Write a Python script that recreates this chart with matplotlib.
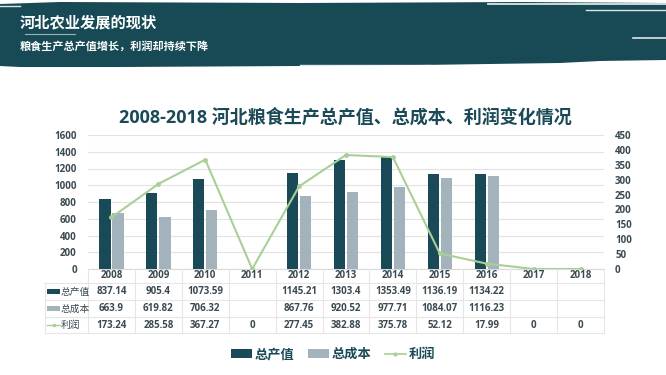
import matplotlib
matplotlib.use("Agg")
import matplotlib.pyplot as plt
from matplotlib.patches import Polygon, Rectangle
from matplotlib.lines import Line2D
import matplotlib.transforms as mtransforms

plt.rcParams['font.family'] = ['Open Sans', 'Noto Sans CJK SC', 'DejaVu Sans']

years = ['2008', '2009', '2010', '2011', '2012', '2013', '2014', '2015', '2016', '2017', '2018']
output_value = [837.14, 905.4, 1073.59, None, 1145.21, 1303.4, 1353.49, 1136.19, 1134.22, None, None]
total_cost = [663.9, 619.82, 706.32, None, 867.76, 920.52, 977.71, 1084.07, 1116.23, None, None]
profit = [173.24, 285.58, 367.27, 0, 277.45, 382.88, 375.78, 52.12, 17.99, 0, 0]
series_names = ['总产值', '总成本', '利润']
left_ticks = [0, 200, 400, 600, 800, 1000, 1200, 1400, 1600]
right_ticks = [0, 50, 100, 150, 200, 250, 300, 350, 400, 450]

DARK = '#1a4a57'
LIGHT = '#a3b3bb'
GREEN = '#a9cf98'
TXT = '#3b4a52'
GRID = '#e3e3e3'

W, H = 666, 375
fig = plt.figure(figsize=(W / 100, H / 100), dpi=100)
fig.patch.set_facecolor('white')

def fx(px):
    return px / W

def fy(py):
    return 1 - py / H

# Header banner
bg = fig.add_axes([0, 0, 1, 1], zorder=0)
bg.set_xlim(0, W)
bg.set_ylim(H, 0)
bg.axis('off')
banner = Polygon([(0, 4), (60, 2), (300, 3), (520, 2), (666, 3), (666, 60), (600, 61),
                  (560, 63), (420, 65), (300, 66), (120, 67), (20, 67), (0, 66)],
                 closed=True, facecolor='#184a56', edgecolor='none')
bg.add_patch(banner)
for (x0, x1, y, lw) in [(488, 666, 4, 1.3), (586, 666, 10, 1.0),
                        (633, 666, 38, 1.2), (300, 430, 65, 1.0), (0, 20, 6, 1.0)]:
    bg.plot([x0, x1], [y, y], color='white', lw=lw, alpha=0.85)
bg.plot([25, 75], [34, 34], color='#9ab0b6', lw=0.8)
bg.text(20, 22, '河北农业发展的现状', color='white', fontsize=11, fontweight='bold',
        va='center', ha='left', family=['Noto Sans CJK SC'])
bg.text(20, 46, '粮食生产总产值增长，利润却持续下降', color='white', fontsize=8,
        fontweight='bold', va='center', ha='left', family=['Noto Sans CJK SC'])

# Chart title
bg.text(345, 117, '2008-2018 河北粮食生产总产值、总成本、利润变化情况', color=DARK,
        fontsize=13, fontweight='bold', ha='center', va='center')

# Main axes
ax_l, ax_r, ax_b, ax_t = 88, 604, 269, 135
ax = fig.add_axes([fx(ax_l), fy(ax_b), fx(ax_r - ax_l), fy(ax_t) - fy(ax_b)], zorder=2)
ax.set_facecolor('none')
n = len(years)
xs = list(range(n))
ax.set_xlim(-0.5, n - 0.5)
ax.set_ylim(0, 1600)
ax.set_yticks(left_ticks)
ax.yaxis.grid(True, color=GRID, lw=0.8)
ax.set_axisbelow(True)
for s in ax.spines.values():
    s.set_visible(False)
ax.tick_params(axis='y', length=0, labelsize=7, labelcolor=TXT, pad=8)
ax.tick_params(axis='x', length=0, labelbottom=False)
for lab in ax.get_yticklabels():
    lab.set_fontweight('bold')

bw = 0.24
ov_x = [x - bw / 2 - 0.02 for x, v in zip(xs, output_value) if v is not None]
ov_v = [v for v in output_value if v is not None]
tc_x = [x + bw / 2 + 0.02 for x, v in zip(xs, total_cost) if v is not None]
tc_v = [v for v in total_cost if v is not None]
ax.bar(ov_x, ov_v, width=bw, color=DARK, zorder=3)
ax.bar(tc_x, tc_v, width=bw, color=LIGHT, zorder=3)

ax2 = ax.twinx()
ax2.set_ylim(0, 450)
ax2.set_yticks(right_ticks)
for s in ax2.spines.values():
    s.set_visible(False)
ax2.tick_params(axis='y', length=0, labelsize=7, labelcolor=TXT, pad=8)
for lab in ax2.get_yticklabels():
    lab.set_fontweight('bold')
ax2.plot(xs, profit, color=GREEN, lw=1.5, marker='o', markersize=2.5, zorder=4)

# Table
tbl_left = 45
row_lines = [269, 283, 300, 317, 333]
row_centers = [276, 291.5, 308.5, 325]
trans = mtransforms.blended_transform_factory(ax.transData, bg.transData)
bg.plot([ax_l, ax_r], [row_lines[0], row_lines[0]], color='#d9d9d9', lw=0.8, zorder=1)
for y in row_lines[1:]:
    bg.plot([tbl_left, ax_r], [y, y], color='#e6e6e6', lw=0.8, zorder=1)
bg.plot([tbl_left, tbl_left], [row_lines[1], row_lines[-1]], color='#e6e6e6', lw=0.8)
for k in range(n + 1):
    bg.plot([k - 0.5, k - 0.5], [row_lines[0], row_lines[-1]], color='#e6e6e6', lw=0.8,
            transform=trans)
for k, yr in enumerate(years):
    bg.text(k, row_centers[0], yr, transform=trans, ha='center', va='center',
            fontsize=7, color=TXT, fontweight='bold')

def fmt(v):
    return '' if v is None else ('%g' % v)

rows = [output_value, total_cost, profit]
for r, vals in enumerate(rows):
    yc = row_centers[r + 1]
    for k, v in enumerate(vals):
        if v is None:
            continue
        bg.text(k, yc, fmt(v), transform=trans, ha='center', va='center',
                fontsize=7, color=TXT, fontweight='bold')

# Row labels with legend keys
key_y = row_centers[1:]
bg.add_patch(Rectangle((47, key_y[0] - 2.5), 13, 5, facecolor=DARK, edgecolor='none'))
bg.add_patch(Rectangle((47, key_y[1] - 2.5), 13, 5, facecolor=LIGHT, edgecolor='none'))
bg.plot([47, 60], [key_y[2], key_y[2]], color=GREEN, lw=1)
bg.plot([53.5], [key_y[2]], marker='o', markersize=1.5, color=GREEN)
for name, y in zip(series_names, key_y):
    bg.text(61, y, name, ha='left', va='center', fontsize=7, color=TXT,
            family=['Noto Sans CJK SC'])

# Bottom legend
handles = [Rectangle((0, 0), 1, 1, facecolor=DARK),
           Rectangle((0, 0), 1, 1, facecolor=LIGHT),
           Line2D([0], [0], color=GREEN, lw=1.2, marker='o', markersize=2)]
leg = fig.legend(handles, series_names, loc='center', bbox_to_anchor=(fx(333), fy(354)),
                 ncol=3, frameon=False, handlelength=1.6, handleheight=0.6,
                 handletextpad=0.2, columnspacing=1.0,
                 prop={'family': ['Noto Sans CJK SC'], 'size': 9.5, 'weight': 'bold'})
for t in leg.get_texts():
    t.set_color(DARK)

fig.savefig('out.png', dpi=100, facecolor='white')
